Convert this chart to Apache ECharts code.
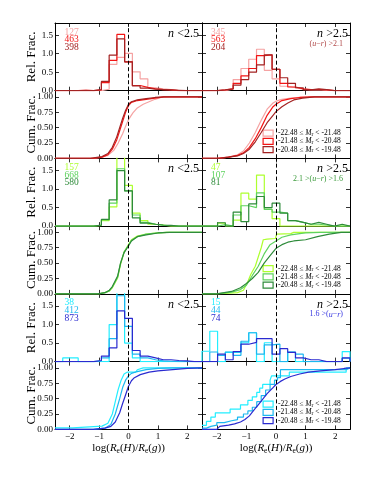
<!DOCTYPE html>
<html><head><meta charset="utf-8">
<script src="https://cdn.jsdelivr.net/npm/echarts@6/dist/echarts.min.js"></script>
<style>html,body{margin:0;padding:0;background:#fff}#c{width:374px;height:481px}</style>
</head><body><div id="c"></div>
<script>
// ---------------- DATA ----------------
const binEdges = [-2.5,-2.237,-1.974,-1.711,-1.447,-1.184,-0.921,-0.658,-0.395,-0.132,0.132,0.395,0.658,0.921,1.184,1.447,1.711,1.974,2.237,2.5];
const xTicks = [-2,-1,0,1,2];

// Rel. Frac. histograms (19 bins each); A = -22.48..-21.48, B = -21.48..-20.48, C = -20.48..-19.48
const redLowA    = [0,0,0,0.03,0,0,0.04,0.71,0.9,1.01,0.51,0.32,0.08,0.05,0.03,0,0,0,0];
const redLowB    = [0,0,0,0,0,0.02,0.22,0.82,1.52,0.78,0.14,0.09,0.05,0.03,0.02,0,0,0,0];
const redLowC    = [0,0,0,0,0,0.03,0.25,0.96,1.4,0.78,0.13,0.07,0.04,0.03,0.02,0.01,0,0,0];
const redHighA   = [0,0,0,0.05,0.3,0.6,0.85,1.12,0.55,0.32,0.12,0.08,0.04,0.02,0.03,0.01,0,0,0];
const redHighB   = [0,0,0.02,0.05,0.2,0.4,0.6,0.95,0.97,0.58,0.2,0.1,0.05,0.03,0.03,0.02,0,0,0];
const redHighC   = [0,0,0.02,0.05,0.15,0.3,0.5,0.7,0.97,0.58,0.35,0.2,0.08,0.02,0.05,0.03,0,0,0];
const greenLowA  = [0,0,0,0,0,0.02,0.15,0.52,1.9,1.1,0.35,0.15,0.05,0.03,0,0,0,0,0];
const greenLowB  = [0,0,0,0,0,0.02,0.17,0.62,1.55,0.95,0.3,0.1,0.05,0.02,0.01,0,0,0,0];
const greenLowC  = [0,0,0,0,0,0.03,0.18,0.71,1.5,0.95,0.22,0.08,0.05,0.03,0.02,0,0,0,0];
const greenHighA = [0,0,0.08,0,0.16,0.89,0.73,1.38,0.45,0.2,0,0,0,0,0,0,0,0,0];
const greenHighB = [0,0,0.04,0,0.3,0.55,0.5,0.9,0.45,0.38,0.35,0.15,0.1,0.05,0.05,0.03,0,0,0];
const greenHighC = [0,0,0.09,0,0.38,0.12,0.6,0.8,0.5,0.62,0.35,0.15,0.1,0.05,0.1,0.05,0,0.05,0];
const blueLowA   = [0,0.1,0.1,0,0,0,0,1.0,2.1,0.5,0.1,0,0,0,0,0,0,0,0];
const blueLowB   = [0,0,0,0,0,0.02,0.1,0.62,1.78,0.95,0.2,0.1,0.05,0.02,0.01,0,0,0,0];
const blueLowC   = [0,0,0,0,0,0.03,0.15,0.37,1.37,1.17,0.3,0.15,0.1,0.05,0.05,0.03,0.02,0,0];
const blueHighA  = [0.28,0.82,0,0.25,0.25,0.51,0.78,0,0.51,0,0,0.25,0,0,0,0,0,0,0.27];
const blueHighB  = [0,0.26,0.17,0.26,0.17,0.55,0.78,0.2,0.45,0.47,0,0.26,0.2,0,0,0,0,0,0.09];
const blueHighC  = [0,0,0.2,0.05,0.27,0.47,0.52,0.62,0.62,0.2,0.35,0.25,0.1,0.05,0.05,0,0,0,0.1];

// Cumulative fractions, [x, y]
const cumRedLowA = [[-2.5,0],[-1.2,0],[-0.9,0.02],[-0.7,0.05],[-0.5,0.13],[-0.35,0.25],[-0.2,0.4],[-0.1,0.52],[0,0.63],[0.15,0.74],[0.3,0.82],[0.5,0.88],[0.7,0.92],[0.9,0.96],[1.1,0.99],[1.4,1.0],[2.5,1.0]];
const cumRedLowB = [[-2.5,0],[-1.2,0],[-0.9,0.02],[-0.7,0.06],[-0.55,0.15],[-0.4,0.3],[-0.3,0.45],[-0.2,0.6],[-0.1,0.75],[0,0.86],[0.1,0.91],[0.3,0.94],[0.6,0.96],[0.9,0.98],[1.2,1.0],[2.5,1.0]];
const cumRedLowC = [[-2.5,0],[-1.3,0],[-0.9,0.03],[-0.7,0.08],[-0.55,0.18],[-0.4,0.35],[-0.3,0.5],[-0.2,0.65],[-0.1,0.78],[0,0.88],[0.1,0.92],[0.3,0.95],[0.6,0.97],[0.9,0.99],[1.2,1.0],[2.5,1.0]];
const cumRedHighA = [[-2.5,0],[-2.0,0],[-1.6,0.02],[-1.3,0.06],[-1.1,0.12],[-0.9,0.25],[-0.7,0.42],[-0.5,0.62],[-0.3,0.8],[-0.1,0.9],[0,0.93],[0.2,0.96],[0.5,0.98],[0.8,0.99],[1.2,1.0],[2.5,1.0]];
const cumRedHighB = [[-2.5,0],[-2.0,0],[-1.6,0.02],[-1.3,0.05],[-1.1,0.09],[-0.9,0.18],[-0.7,0.32],[-0.5,0.5],[-0.3,0.7],[-0.1,0.84],[0,0.88],[0.2,0.94],[0.5,0.97],[0.8,0.99],[1.2,1.0],[2.5,1.0]];
const cumRedHighC = [[-2.5,0],[-1.9,0],[-1.6,0.02],[-1.3,0.04],[-1.1,0.08],[-0.9,0.15],[-0.7,0.27],[-0.5,0.42],[-0.3,0.58],[-0.1,0.7],[0,0.76],[0.2,0.84],[0.4,0.9],[0.6,0.95],[0.9,0.98],[1.3,1.0],[2.5,1.0]];
const cumGreenLowA = [[-2.5,0],[-1.0,0],[-0.8,0.02],[-0.65,0.05],[-0.55,0.1],[-0.37,0.26],[-0.27,0.48],[-0.15,0.68],[0,0.8],[0.1,0.88],[0.3,0.94],[0.6,0.97],[1.0,0.99],[1.3,1.0],[2.5,1.0]];
const cumGreenLowB = [[-2.5,0],[-1.0,0],[-0.8,0.02],[-0.65,0.05],[-0.55,0.11],[-0.37,0.27],[-0.27,0.5],[-0.15,0.68],[0,0.79],[0.1,0.87],[0.3,0.93],[0.6,0.97],[1.0,0.99],[1.3,1.0],[2.5,1.0]];
const cumGreenLowC = [[-2.5,0],[-1.05,0],[-0.8,0.02],[-0.65,0.06],[-0.55,0.12],[-0.37,0.29],[-0.27,0.5],[-0.15,0.67],[0,0.78],[0.1,0.86],[0.3,0.93],[0.6,0.96],[1.0,0.99],[1.4,1.0],[2.5,1.0]];
const cumGreenHighA = [[-2.5,0],[-2.0,0],[-1.95,0.02],[-1.3,0.02],[-1.25,0.04],[-1.1,0.06],[-0.95,0.2],[-0.85,0.32],[-0.7,0.45],[-0.6,0.6],[-0.5,0.75],[-0.43,0.88],[-0.3,0.89],[-0.02,0.9],[0.02,0.97],[0.5,0.98],[0.6,1.0],[2.5,1.0]];
const cumGreenHighB = [[-2.5,0],[-2.0,0],[-1.5,0.03],[-1.2,0.07],[-1.0,0.14],[-0.8,0.3],[-0.6,0.45],[-0.4,0.65],[-0.2,0.8],[0,0.86],[0.2,0.92],[0.5,0.96],[0.8,0.98],[1.0,0.99],[1.5,1.0],[2.5,1.0]];
const cumGreenHighC = [[-2.5,0],[-2.0,0],[-1.5,0.04],[-1.2,0.1],[-1.0,0.17],[-0.8,0.25],[-0.6,0.35],[-0.4,0.5],[-0.2,0.62],[0,0.74],[0.2,0.8],[0.4,0.84],[0.6,0.86],[1.0,0.88],[1.4,0.93],[1.8,0.97],[2.2,1.0],[2.5,1.0]];
const cumBlueLowA = [[-2.5,0.026],[-1.9,0.026],[-1.9,0.053],[-0.9,0.053],[-0.7,0.1],[-0.55,0.25],[-0.45,0.45],[-0.35,0.65],[-0.25,0.8],[-0.15,0.9],[-0.05,0.93],[0.25,0.93],[0.3,0.97],[0.5,1.0],[2.5,1.0]];
const cumBlueLowB = [[-2.5,0],[-1.2,0],[-0.8,0.02],[-0.6,0.08],[-0.45,0.25],[-0.3,0.5],[-0.2,0.68],[-0.1,0.8],[0,0.87],[0.1,0.91],[0.3,0.94],[0.6,0.97],[1.0,0.99],[1.5,1.0],[2.5,1.0]];
const cumBlueLowC = [[-2.5,0],[-1.2,0],[-0.8,0.02],[-0.6,0.05],[-0.45,0.12],[-0.3,0.27],[-0.2,0.42],[-0.1,0.56],[0,0.7],[0.1,0.79],[0.2,0.84],[0.4,0.89],[0.7,0.93],[1.0,0.95],[1.5,0.97],[2.0,0.99],[2.5,1.0]];
const cumBlueHighA = [[-2.5,0.067],[-2.35,0.13],[-2.2,0.2],[-2.05,0.27],[-1.55,0.33],[-1.2,0.4],[-0.95,0.47],[-0.8,0.53],[-0.65,0.6],[-0.55,0.67],[-0.45,0.73],[-0.2,0.8],[-0.15,0.87],[0.45,0.93],[2.37,1.0],[2.5,1.0]];
const cumBlueHighB = [[-2.5,0.02],[-2.35,0.05],[-2.2,0.07],[-2.0,0.11],[-1.75,0.14],[-1.5,0.16],[-1.3,0.2],[-1.1,0.25],[-0.95,0.3],[-0.8,0.36],[-0.65,0.45],[-0.5,0.55],[-0.35,0.64],[-0.2,0.73],[-0.05,0.8],[0.05,0.84],[0.15,0.97],[2.37,1.0],[2.5,1.0]];
const cumBlueHighC = [[-2.5,0],[-2.0,0],[-1.95,0.03],[-1.9,0.05],[-1.6,0.07],[-1.4,0.09],[-1.2,0.12],[-1.05,0.16],[-0.9,0.22],[-0.8,0.28],[-0.7,0.34],[-0.6,0.4],[-0.5,0.46],[-0.4,0.52],[-0.3,0.58],[-0.2,0.63],[-0.1,0.68],[0,0.73],[0.15,0.78],[0.3,0.82],[0.5,0.86],[0.8,0.9],[1.1,0.93],[1.5,0.95],[2.0,0.97],[2.3,0.99],[2.5,1.0]];

const countsRedLow = ['127','463','398'];
const countsRedHigh = ['345','563','204'];
const countsGreenLow = ['157','668','580'];
const countsGreenHigh = ['47','107','81'];
const countsBlueLow = ['38','412','873'];
const countsBlueHigh = ['15','44','74'];
const magBins = [['-22.48','-21.48'],['-21.48','-20.48'],['-20.48','-19.48']];

const redColors = ['#f5a3a3','#f31515','#a32222'];
const greenColors = ['#adff2f','#5fd35f','#2e8b3a'];
const blueColors = ['#22eeff','#1cb8f0','#2a2ad0'];
const colorCutColors = ['#b04848','#3a9a3a','#3535e0'];

// ---------------- LAYOUT ----------------
const FONT = 'Liberation Serif';
const rowTop = [23, 90.7, 158.4, 226.2, 293.9, 361.7];
const rowH = 67.7;
const colL = [55, 202], colW = [147, 148];
const relMax = 1.83, cumMax = 1.1;

const rowsDef = [
  {type:'rel', sets:[[redLowA,redLowB,redLowC],[redHighA,redHighB,redHighC]], colors:redColors, counts:[countsRedLow,countsRedHigh],
   cut:'{n|(}{i|u}{n|\u2212}{i|r}{n|) >2.1}', cutColor:colorCutColors[0]},
  {type:'cum', sets:[[cumRedLowA,cumRedLowB,cumRedLowC],[cumRedHighA,cumRedHighB,cumRedHighC]], colors:redColors, step:[[false,false,false],[false,false,false]]},
  {type:'rel', sets:[[greenLowA,greenLowB,greenLowC],[greenHighA,greenHighB,greenHighC]], colors:greenColors, counts:[countsGreenLow,countsGreenHigh],
   cut:'{n|2.1 >(}{i|u}{n|\u2212}{i|r}{n|) >1.6}', cutColor:colorCutColors[1]},
  {type:'cum', sets:[[cumGreenLowA,cumGreenLowB,cumGreenLowC],[cumGreenHighA,cumGreenHighB,cumGreenHighC]], colors:greenColors, step:[[false,false,false],[false,false,false]]},
  {type:'rel', sets:[[blueLowA,blueLowB,blueLowC],[blueHighA,blueHighB,blueHighC]], colors:blueColors, counts:[countsBlueLow,countsBlueHigh],
   cut:'{n|1.6 >(}{i|u}{n|\u2212}{i|r}{n|)}', cutColor:colorCutColors[2]},
  {type:'cum', sets:[[cumBlueLowA,cumBlueLowB,cumBlueLowC],[cumBlueHighA,cumBlueHighB,cumBlueHighC]], colors:blueColors, step:[[false,false,false],['end','end',false]]}
];

function histSteps(vals){
  const pts = [[binEdges[0], 0]];
  for (let i = 0; i < vals.length; i++) pts.push([binEdges[i], vals[i]]);
  pts.push([binEdges[vals.length], vals[vals.length-1]]);
  pts.push([binEdges[vals.length], 0]);
  return pts;
}

const grids = [], xAxes = [], yAxes = [], series = [], graphics = [], legends = [];
const axLine = {show:true, onZero:false, lineStyle:{color:'#000', width:1}};
const axTick = {show:true, inside:true, length:4, lineStyle:{color:'#000', width:0.8}};
const xTitle = '{n|log(}{i|R}{s|e}{n|(}{i|H}{n|)/}{i|R}{s|e}{n|(}{i|g}{n|))}';
const xTitleRich = {
  n:{fontFamily:FONT, fontSize:11, lineHeight:14, color:'#000'},
  i:{fontFamily:FONT, fontSize:11, lineHeight:14, fontStyle:'italic', color:'#000'},
  s:{fontFamily:FONT, fontSize:7.5, lineHeight:6, verticalAlign:'bottom', color:'#000'}
};

rowsDef.forEach((row, r) => {
  for (let c = 0; c < 2; c++) {
    const g = r*2 + c;
    grids.push({left:colL[c], top:rowTop[r], width:colW[c], height:rowH, containLabel:false, outerBoundsMode:'none'});
    const isBottom = (r === 5);
    xAxes.push({
      gridIndex:g, type:'value', min:-2.5, max:2.5, splitNumber:5, position:'bottom',
      axisLine:axLine, axisTick:axTick, splitLine:{show:false},
      axisLabel:{show:isBottom, showMinLabel:false, showMaxLabel:false, margin:3, fontFamily:FONT, fontSize:9, color:'#000',
        formatter: v => (Math.abs(v - Math.round(v)) < 1e-9 && Math.abs(v) < 2.4) ? (v < 0 ? '\u2212' + (-Math.round(v)) : String(Math.round(v))) : ''},
      name: isBottom ? xTitle : '', nameLocation:'middle', nameGap:12, nameMoveOverlap:false,
      nameTextStyle:{rich:xTitleRich}
    });
    xAxes.push({
      gridIndex:g, type:'value', min:-2.5, max:2.5, splitNumber:5, position:'top',
      axisLine:axLine, axisTick:axTick, splitLine:{show:false}, axisLabel:{show:false}
    });
    const isRel = row.type === 'rel';
    yAxes.push({
      gridIndex:g, type:'value', min:0, max:isRel?relMax:cumMax, interval:isRel?0.5:0.25, position:'left',
      axisLine:axLine, axisTick:axTick, splitLine:{show:false},
      axisLabel:{show:c===0, showMaxLabel:false, margin:2, fontFamily:FONT, fontSize:9, color:'#000',
        formatter: v => isRel ? (v <= 1.51 ? v.toFixed(1) : '') : (v <= 1.01 ? v.toFixed(2) : '')},
      name: c===0 ? (isRel ? 'Rel. Frac.' : 'Cum. Frac.') : '', nameLocation:'middle', nameGap:17, nameMoveOverlap:false,
      nameTextStyle:{fontFamily:FONT, fontSize:13, color:'#000'}
    });
    yAxes.push({
      gridIndex:g, type:'value', min:0, max:isRel?relMax:cumMax, interval:isRel?0.5:0.25, position:'right',
      axisLine:axLine, axisTick:axTick, splitLine:{show:false}, axisLabel:{show:false}
    });

    const names = [];
    row.sets[c].forEach((d, k) => {
      const nm = 's' + g + '_' + k;
      names.push(nm);
      const s = {
        name:nm, type:'line', xAxisIndex:2*g, yAxisIndex:2*g, showSymbol:false, symbol:'none',
        lineStyle:{color:row.colors[k], width:1.2}, itemStyle:{color:row.colors[k]},
        data: isRel ? histSteps(d) : d, step: isRel ? 'end' : row.step[c][k], clip:true, silent:true, z:2+k
      };
      if (k === 0) {
        s.markLine = {silent:true, symbol:['none','none'], label:{show:false}, animation:false,
          lineStyle:{color:'#000', type:[4,2.5], width:1}, data:[{xAxis:0}]};
      }
      series.push(s);
    });

    const top = rowTop[r];
    if (isRel) {
      // counts
      row.counts[c].forEach((t, k) => {
        graphics.push({type:'text', left:undefined, x: colL[c] + (c===0?9.5:9), y: top + 9 + k*7.7,
          style:{text:t, fill:row.colors[k], font:'9.5px "' + FONT + '"', verticalAlign:'middle', align:'left'}});
      });
      // n label
      graphics.push({type:'text', x: colL[c] + colW[c] - (c===0?3:2), y: top + 10.5,
        style:{text:'{i|n} {n|' + (c===0 ? '<2.5' : '>2.5') + '}', align:'right', verticalAlign:'middle',
          rich:{i:{font:'italic 12px "' + FONT + '"', fill:'#000'}, n:{font:'12px "' + FONT + '"', fill:'#000'}}}});
      if (c === 1) {
        graphics.push({type:'text', x: 343, y: top + 20.5,
          style:{text:row.cut, align:'right', verticalAlign:'middle',
            rich:{i:{font:'italic 8px "' + FONT + '"', fill:row.cutColor}, n:{font:'8px "' + FONT + '"', fill:row.cutColor}}}});
      }
    } else if (c === 1) {
      legends.push({
        orient:'vertical', left:262.5, top: top + 38.4, padding:0, itemWidth:10, itemHeight:6, itemGap:0.3,
        icon:'rect', selectedMode:false,
        data: names.map((nm, k) => ({name:nm, itemStyle:{color:'#fff', borderColor:row.colors[k], borderWidth:1.2}})),
        formatter: nm => { const k = names.indexOf(nm); return '{n|' + magBins[k][0] + ' \u2264 }{i|M}{s|r}{n| < ' + magBins[k][1] + '}'; },
        textStyle:{fontFamily:FONT, fontSize:7.5, color:'#000',
          rich:{n:{fontFamily:FONT, fontSize:7.5, lineHeight:8, color:'#000'},
                i:{fontFamily:FONT, fontSize:7.5, lineHeight:8, fontStyle:'italic', color:'#000'},
                s:{fontFamily:FONT, fontSize:5.5, lineHeight:4, verticalAlign:'bottom', color:'#000'}}}
      });
    }
  }
});

const chart = echarts.init(document.getElementById('c'), null, {renderer:'canvas'});
chart.setOption({
  animation:false,
  backgroundColor:'#fff',
  grid:grids, xAxis:xAxes, yAxis:yAxes, series:series, legend:legends, graphic:graphics
});
</script>
</body></html>
